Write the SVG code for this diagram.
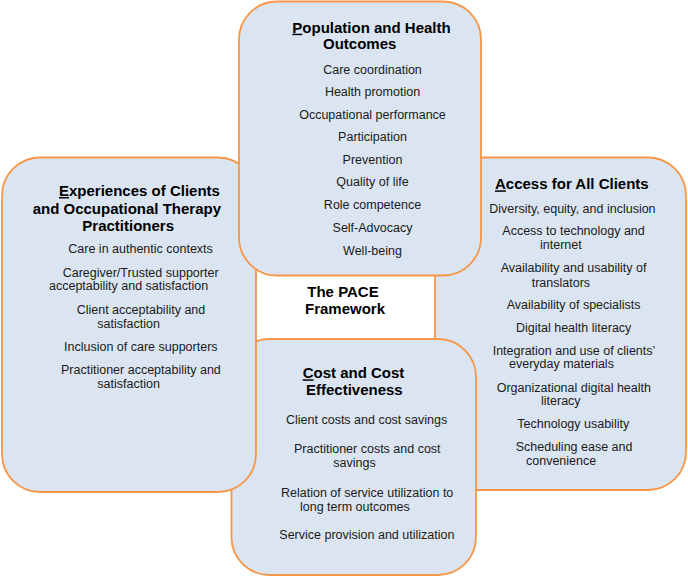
<svg xmlns="http://www.w3.org/2000/svg" width="688" height="577" viewBox="0 0 688 577">
<style>
.box{fill:#DBE5F1;stroke:#F79646;stroke-width:1.8}
.t{font-family:"Liberation Sans",Arial,sans-serif;font-size:15px;font-weight:bold;fill:#000}
.i{font-family:"Liberation Sans",Arial,sans-serif;font-size:12.5px;fill:#1a1a1a}
.u{text-decoration:underline}
</style>
<rect x="0" y="0" width="688" height="577" fill="#fff"/>
<g id="access">
<rect class="box" x="435" y="157.5" width="251" height="332.5" rx="38"/>
<text class="t" x="495" y="189.3"><tspan class="u">A</tspan>ccess for All Clients</text>
<text class="i" x="489.3" y="212.7">Diversity, equity, and inclusion</text>
<text class="i" x="502.3" y="235">Access to technology and</text>
<text class="i" x="540" y="249.3">internet</text>
<text class="i" x="500.7" y="271.7">Availability and usability of</text>
<text class="i" x="531.7" y="286.7">translators</text>
<text class="i" x="506.7" y="309.3">Availability of specialists</text>
<text class="i" x="516" y="332.3">Digital health literacy</text>
<text class="i" x="492.7" y="355">Integration and use of clients’</text>
<text class="i" x="509" y="368.3">everyday materials</text>
<text class="i" x="496.7" y="391.7">Organizational digital health</text>
<text class="i" x="541" y="405">literacy</text>
<text class="i" x="517.3" y="428.3">Technology usability</text>
<text class="i" x="515.7" y="450.7">Scheduling ease and</text>
<text class="i" x="526" y="465">convenience</text>
</g>
<g id="cost">
<rect class="box" x="231.5" y="339" width="244.5" height="236" rx="38"/>
<text class="t" x="302.7" y="378.3"><tspan class="u">C</tspan>ost and Cost</text>
<text class="t" x="306" y="395">Effectiveness</text>
<text class="i" x="286" y="424.3">Client costs and cost savings</text>
<text class="i" x="294" y="453.3">Practitioner costs and cost</text>
<text class="i" x="333.3" y="467.3">savings</text>
<text class="i" x="281" y="496.7">Relation of service utilization to</text>
<text class="i" x="300" y="511">long term outcomes</text>
<text class="i" x="279.3" y="539.3">Service provision and utilization</text>
</g>
<g id="experiences">
<rect class="box" x="2" y="157.5" width="254" height="334.5" rx="38"/>
<text class="t" x="59" y="196"><tspan class="u">E</tspan>xperiences of Clients</text>
<text class="t" x="32.7" y="214">and Occupational Therapy</text>
<text class="t" x="82.3" y="231">Practitioners</text>
<text class="i" x="68.3" y="253.3">Care in authentic contexts</text>
<text class="i" x="62.7" y="276.7">Caregiver/Trusted supporter</text>
<text class="i" x="49" y="290">acceptability and satisfaction</text>
<text class="i" x="76.7" y="314">Client acceptability and</text>
<text class="i" x="97.3" y="327.7">satisfaction</text>
<text class="i" x="64" y="351">Inclusion of care supporters</text>
<text class="i" x="61" y="374">Practitioner acceptability and</text>
<text class="i" x="97.3" y="387.7">satisfaction</text>
</g>
<g id="population">
<rect class="box" x="239" y="1.5" width="242" height="274" rx="38"/>
<text class="t" x="292.3" y="32.7"><tspan class="u">P</tspan>opulation and Health</text>
<text class="t" x="323" y="49.3">Outcomes</text>
<g class="i" text-anchor="middle">
<text x="372.5" y="73.5">Care coordination</text>
<text x="372.5" y="96">Health promotion</text>
<text x="372.5" y="118.5">Occupational performance</text>
<text x="372.5" y="141">Participation</text>
<text x="372.5" y="163.5">Prevention</text>
<text x="372.5" y="186">Quality of life</text>
<text x="372.5" y="208.7">Role competence</text>
<text x="372.5" y="231.5">Self-Advocacy</text>
<text x="372.5" y="254.5">Well-being</text>
</g>
</g>
<g id="center">
<text class="t" x="307.3" y="297.3">The PACE</text>
<text class="t" x="305" y="314.3">Framework</text>
</g>
<g id="connectors"></g>
</svg>
